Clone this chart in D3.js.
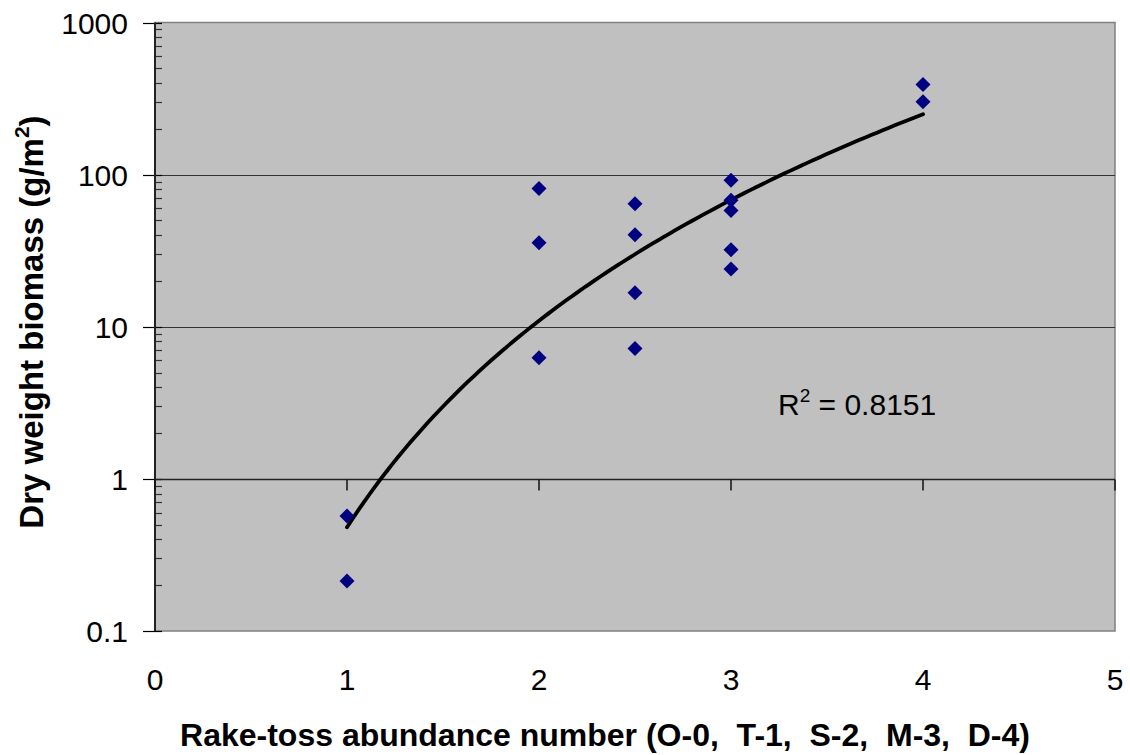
<!DOCTYPE html>
<html>
<head>
<meta charset="utf-8">
<script src="https://cdn.jsdelivr.net/npm/d3@7"></script>
<style>
html,body{margin:0;padding:0;background:#fff;}
svg{display:block;font-family:"Liberation Sans",Arial,sans-serif;}
</style>
</head>
<body>
<svg id="chart" width="1130" height="755"></svg>
<script>
// Data
const xValues = [1, 1, 2, 2, 2, 2.5, 2.5, 2.5, 2.5, 3, 3, 3, 3, 3, 4, 4];
const yValues = [0.57, 0.213, 81, 35.7, 6.25, 64.4, 40.3, 16.7, 7.2, 91.7, 67.8, 58.2, 32.1, 24.0, 391, 301];
const xTicks = [0, 1, 2, 3, 4, 5];
const yTicks = [0.1, 1, 10, 100, 1000];
const yTickLabels = ["0.1", "1", "10", "100", "1000"];
const rSquaredLabel = "0.8151";
const xTitle = "Rake-toss abundance number (O-0,  T-1,  S-2,  M-3,  D-4)";
const yTitle = "Dry weight biomass (g/m";

(function () {
const svg = d3.select("#chart");
const pLeft = 155, pRight = 1115, pTop = 22.5, pBottom = 631;

const x = d3.scaleLinear().domain([0, 5]).range([pLeft, pRight]);
const y = d3.scaleLog().domain([0.1, 1000]).range([pBottom, pTop]);

// plot area
svg.append("rect").attr("x", pLeft).attr("y", pTop)
  .attr("width", pRight - pLeft).attr("height", pBottom - pTop)
  .attr("fill", "#C0C0C0").attr("stroke", "#808080").attr("stroke-width", 1.5);

// horizontal gridlines
svg.append("g").selectAll("line").data(yTicks.filter(v => v > 0.1 && v < 1000)).join("line")
  .attr("x1", pLeft).attr("x2", pRight)
  .attr("y1", d => Math.round(y(d)) + 0.5).attr("y2", d => Math.round(y(d)) + 0.5)
  .attr("stroke", "#333").attr("stroke-width", 1);

// minor ticks (inside)
const minor = [];
for (let e = -1; e < 3; e++) for (let m = 2; m <= 9; m++) minor.push(m * Math.pow(10, e));
svg.append("g").selectAll("line").data(minor).join("line")
  .attr("x1", pLeft).attr("x2", pLeft + 7)
  .attr("y1", d => Math.round(y(d)) + 0.5).attr("y2", d => Math.round(y(d)) + 0.5)
  .attr("stroke", "#333").attr("stroke-width", 1.2);

// major ticks
svg.append("g").selectAll("line").data(yTicks).join("line")
  .attr("x1", pLeft - 12).attr("x2", pLeft + 7)
  .attr("y1", d => Math.round(y(d)) + 0.5).attr("y2", d => Math.round(y(d)) + 0.5)
  .attr("stroke", "#000").attr("stroke-width", 1.2);

// y axis line
svg.append("line").attr("x1", pLeft).attr("x2", pLeft).attr("y1", pTop).attr("y2", pBottom)
  .attr("stroke", "#222").attr("stroke-width", 2);

// x axis (crosses at y = 1)
const y1 = Math.round(y(1)) + 0.5;
svg.append("line").attr("x1", pLeft).attr("x2", pRight).attr("y1", y1).attr("y2", y1)
  .attr("stroke", "#222").attr("stroke-width", 1.5);
svg.append("g").selectAll("line").data(xTicks).join("line")
  .attr("x1", d => x(d)).attr("x2", d => x(d))
  .attr("y1", y1).attr("y2", y1 + 11)
  .attr("stroke", "#111").attr("stroke-width", 1.5);

// y tick labels
svg.append("g").selectAll("text").data(yTicks).join("text")
  .attr("x", 128).attr("y", d => y(d) + 11)
  .attr("text-anchor", "end").attr("font-size", 30).attr("fill", "#000")
  .text((d, i) => yTickLabels[i]);

// x tick labels
svg.append("g").selectAll("text").data(xTicks).join("text")
  .attr("x", d => x(d)).attr("y", 690)
  .attr("text-anchor", "middle").attr("font-size", 30).attr("fill", "#000")
  .text(d => d);

// power trendline fit (least squares on ln-ln)
const lx = xValues.map(Math.log), ly = yValues.map(Math.log);
const mx = d3.mean(lx), my = d3.mean(ly);
let sxy = 0, sxx = 0;
lx.forEach((v, i) => { sxy += (v - mx) * (ly[i] - my); sxx += (v - mx) * (v - mx); });
const b = sxy / sxx, a = Math.exp(my - b * mx);
const trend = d3.range(0, 101).map(i => { const xv = 1 + 3 * i / 100; return [xv, a * Math.pow(xv, b)]; });
svg.append("path").datum(trend)
  .attr("d", d3.line().x(d => x(d[0])).y(d => y(d[1])))
  .attr("fill", "none").attr("stroke", "#000").attr("stroke-width", 3.8).attr("stroke-linecap", "round");

// markers
svg.append("g").selectAll("path").data(xValues.map((v, i) => [v, yValues[i]])).join("path")
  .attr("transform", d => `translate(${x(d[0])},${y(d[1])})`)
  .attr("d", "M0,-7.5L7.5,0L0,7.5L-7.5,0Z")
  .attr("fill", "#000080");

// R² label
const rt = svg.append("text").attr("x", 778).attr("y", 415).attr("font-size", 30).attr("fill", "#000");
rt.append("tspan").text("R");
rt.append("tspan").attr("font-size", 19).attr("dy", -13).text("2");
rt.append("tspan").attr("dy", 13).text(" = " + rSquaredLabel);

// x title
svg.append("text").attr("x", 605).attr("y", 746).attr("text-anchor", "middle")
  .attr("font-size", 32).attr("font-weight", "bold").style("white-space", "pre")
  .text(xTitle);

// y title
const yt = svg.append("text").attr("transform", "translate(43,322) rotate(-90)")
  .attr("text-anchor", "middle").attr("font-size", 33).attr("font-weight", "bold");
yt.append("tspan").text(yTitle);
yt.append("tspan").attr("font-size", 21).attr("dy", -14).text("2");
yt.append("tspan").attr("dy", 14).text(")");
})();
</script>
</body>
</html>
